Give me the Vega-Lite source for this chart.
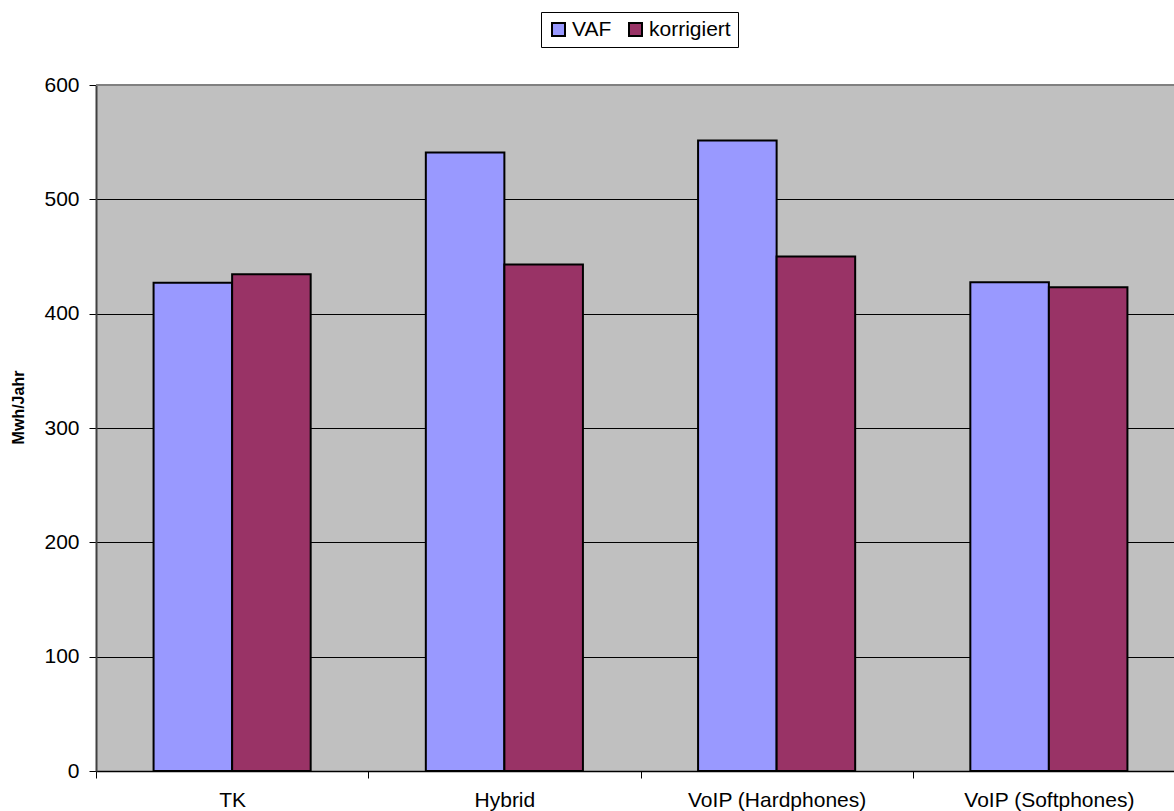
{
  "$schema": "https://vega.github.io/schema/vega-lite/v6.json",
  "width": 1078,
  "height": 686,
  "autosize": {"type": "none"},
  "padding": {"left": 96, "top": 85, "right": 0, "bottom": 40},
  "background": "white",
  "config": {
    "font": "Liberation Sans",
    "view": {"fill": "#C0C0C0", "stroke": null}
  },
  "data": {
    "values": [
      {"Kategorie": "TK", "Serie": "VAF", "Wert": 427},
      {"Kategorie": "TK", "Serie": "korrigiert", "Wert": 434.5},
      {"Kategorie": "Hybrid", "Serie": "VAF", "Wert": 541},
      {"Kategorie": "Hybrid", "Serie": "korrigiert", "Wert": 443},
      {"Kategorie": "VoIP (Hardphones)", "Serie": "VAF", "Wert": 551.5},
      {"Kategorie": "VoIP (Hardphones)", "Serie": "korrigiert", "Wert": 450},
      {"Kategorie": "VoIP (Softphones)", "Serie": "VAF", "Wert": 427.5},
      {"Kategorie": "VoIP (Softphones)", "Serie": "korrigiert", "Wert": 423}
    ]
  },
  "layer": [
    {
      "mark": {"type": "bar", "stroke": "black", "strokeWidth": 2},
      "encoding": {
        "x": {
          "field": "Kategorie",
          "type": "nominal",
          "sort": ["TK", "Hybrid", "VoIP (Hardphones)", "VoIP (Softphones)"],
          "scale": {"paddingInner": 0, "paddingOuter": 0, "range": [0, 1089]},
          "axis": {
            "title": null,
            "labelAngle": 0,
            "tickBand": "extent",
            "labelFontSize": 21,
            "labelColor": "black",
            "tickColor": "black",
            "tickSize": 7,
            "tickWidth": 1,
            "labelPadding": 11,
            "domainColor": "black",
            "domainWidth": 1.5,
            "grid": false
          }
        },
        "xOffset": {
          "field": "Serie",
          "type": "nominal",
          "sort": ["VAF", "korrigiert"],
          "scale": {"paddingInner": 0, "paddingOuter": 0.733}
        },
        "y": {
          "field": "Wert",
          "type": "quantitative",
          "scale": {"domain": [0, 600], "nice": false},
          "axis": {
            "title": "Mwh/Jahr",
            "titleFontSize": 16,
            "titleFontWeight": "bold",
            "titleColor": "black",
            "titleX": -78,
            "titleY": 322,
            "titleAlign": "center",
            "titleBaseline": "middle",
            "titleAngle": 270,
            "values": [0, 100, 200, 300, 400, 500, 600],
            "grid": true,
            "gridColor": "black",
            "gridOpacity": 1,
            "gridWidth": 1,
            "labelFontSize": 21,
            "labelColor": "black",
            "labelPadding": 10,
            "tickColor": "black",
            "tickSize": 7,
            "domainColor": "#404040",
            "domainWidth": 2
          }
        },
        "color": {
          "field": "Serie",
          "type": "nominal",
          "sort": ["VAF", "korrigiert"],
          "scale": {"domain": ["VAF", "korrigiert"], "range": ["#9999FF", "#993366"]},
          "legend": {
            "title": null,
            "orient": "none",
            "legendX": 445,
            "legendY": -73,
            "direction": "horizontal",
            "strokeColor": "black",
            "fillColor": "white",
            "padding": 7,
            "symbolType": "square",
            "symbolSize": 169,
            "symbolStrokeColor": "black",
            "symbolStrokeWidth": 2,
            "labelFontSize": 21,
            "labelColor": "black",
            "labelOffset": 3,
            "columnPadding": 13
          }
        }
      }
    },
    {
      "mark": {"type": "rule", "color": "#808080", "strokeWidth": 2},
      "encoding": {"y": {"datum": 600}}
    }
  ]
}
